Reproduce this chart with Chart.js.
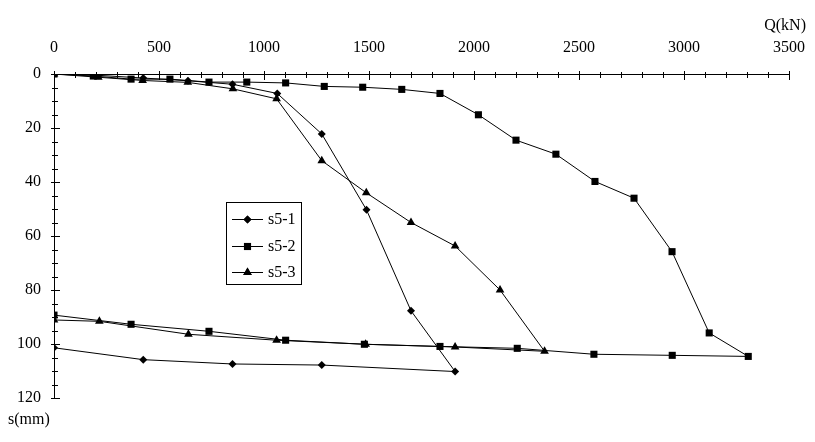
<!DOCTYPE html>
<html>
<head>
<meta charset="utf-8">
<script src="https://cdn.jsdelivr.net/npm/chart.js@4.4.1/dist/chart.umd.min.js"></script>
<style>
  body { margin: 0; background: #fff; }
</style>
</head>
<body>
<canvas id="qsChart" width="815" height="442"></canvas>
<script>
// Q-s curves, loading then unloading
const q51 = [0, 213, 425, 638, 850, 1063, 1275, 1488, 1700, 1910, 1275, 850, 425, 0];
const s51 = [0, 0.5, 1.5, 2.5, 3.8, 7.2, 22.2, 50.3, 87.7, 110.2, 107.8, 107.4, 105.8, 101.4];

const q52 = [0, 187, 367, 552, 738, 918, 1103, 1287, 1470, 1656, 1838, 2021, 2200, 2390, 2576, 2762, 2943, 3120, 3306,
             2944, 2571, 2206, 1838, 1478, 1103, 738, 367, 0];
const s52 = [0, 0.75, 1.9, 1.9, 3, 3, 3.3, 4.6, 4.9, 5.7, 7.2, 15.1, 24.5, 29.7, 39.8, 46, 65.8, 95.9, 104.6,
             104.2, 103.8, 101.6, 100.9, 100.1, 98.6, 95.3, 92.7, 89.3];

const q53 = [0, 211, 422, 637, 852, 1060, 1275, 1487, 1700, 1910, 2124, 2336, 1910, 1484, 1060, 640, 216, 0];
const s53 = [0, 1.2, 2.4, 3.1, 5.5, 9.2, 32.1, 44, 55, 63.7, 80, 102.7, 101.1, 100.1, 98.6, 96.4, 91.6, 91.1];

const xTicks = [0, 500, 1000, 1500, 2000, 2500, 3000, 3500];
const yTicks = [0, 20, 40, 60, 80, 100, 120];

const font = '16px "Liberation Serif", "Times New Roman", serif';

function pts(qs, ss) {
  return qs.map((q, i) => ({ x: q, y: ss[i] }));
}

function series(label, qs, ss, style, r) {
  return {
    label: label,
    data: pts(qs, ss),
    showLine: true,
    borderColor: '#000',
    borderWidth: 1,
    backgroundColor: '#000',
    pointStyle: style,
    pointRadius: r,
    pointBorderWidth: 0,
    pointBackgroundColor: '#000'
  };
}

// little ticks crossing the axes, axis titles and the boxed legend
const extras = {
  id: 'extras',
  afterDraw(chart) {
    const ctx = chart.ctx;
    const xs = chart.scales.x, ys = chart.scales.y;
    ctx.save();
    ctx.strokeStyle = '#000';
    ctx.lineWidth = 1;
    ctx.beginPath();
    for (let v = 0; v <= 3500; v += 100) {
      const px = Math.round(xs.getPixelForValue(v)) + 0.5;
      const major = v % 500 === 0;
      ctx.moveTo(px, ys.top - (major ? 3 : 2));
      ctx.lineTo(px, ys.top + (major ? 6 : 4));
    }
    for (let v = 0; v <= 120; v += 5) {
      const py = Math.round(ys.getPixelForValue(v)) + 0.5;
      const major = v % 20 === 0;
      ctx.moveTo(xs.left - (major ? 3 : 2), py);
      ctx.lineTo(xs.left + (major ? 6 : 4), py);
    }
    ctx.stroke();

    ctx.fillStyle = '#000';
    ctx.font = font;
    ctx.textBaseline = 'middle';
    ctx.textAlign = 'right';
    ctx.fillText('Q(kN)', 806, 26);
    ctx.textAlign = 'left';
    ctx.fillText('s(mm)', 8, 420);

    // legend
    ctx.strokeRect(226.5, 202.5, 75, 82);
    chart.data.datasets.forEach((ds, i) => {
      const y = Math.round(219 + i * 26.7) + 0.5;
      ctx.beginPath();
      ctx.moveTo(232, y);
      ctx.lineTo(263, y);
      ctx.stroke();
      Chart.helpers.drawPoint(ctx, { pointStyle: ds.pointStyle, radius: ds.pointRadius, rotation: 0, borderWidth: 0 }, 247.5, y);
      ctx.fill();
      ctx.fillText(ds.label, 268, y);
    });
    ctx.restore();
  }
};

const tickFont = { family: '"Liberation Serif"', size: 16 };

const config = {
  type: 'scatter',
  data: {
    datasets: [
      series('s5-1', q51, s51, 'rectRot', 4),
      series('s5-2', q52, s52, 'rect', 5),
      series('s5-3', q53, s53, 'triangle', 5)
    ]
  },
  options: {
    responsive: false,
    animation: false,
    layout: { padding: { left: 0, top: 0, right: 26, bottom: 44 } },
    plugins: {
      legend: { display: false },
      tooltip: { enabled: false }
    },
    scales: {
      x: {
        type: 'linear',
        position: 'top',
        min: 0,
        max: 3500,
        afterBuildTicks: (s) => { s.ticks = xTicks.map(v => ({ value: v })); },
        afterFit: (s) => { s.height = 74; s.paddingLeft = 0; s.paddingRight = 0; },
        grid: { display: false, drawTicks: false },
        border: { display: true, color: '#000', width: 1 },
        ticks: { color: '#000', font: tickFont, padding: 17, maxRotation: 0, autoSkip: false, callback: (v) => String(v) }
      },
      y: {
        type: 'linear',
        reverse: true,
        min: 0,
        max: 120,
        afterBuildTicks: (s) => { s.ticks = yTicks.map(v => ({ value: v })); },
        afterFit: (s) => { s.width = 54; s.paddingTop = 0; s.paddingBottom = 0; },
        grid: { display: false, drawTicks: false },
        border: { display: true, color: '#000', width: 1 },
        ticks: { color: '#000', font: tickFont, padding: 13, autoSkip: false, callback: (v) => String(v) }
      }
    }
  },
  plugins: [extras]
};

const qsChart = new Chart(document.getElementById('qsChart').getContext('2d'), config);
</script>
</body>
</html>
